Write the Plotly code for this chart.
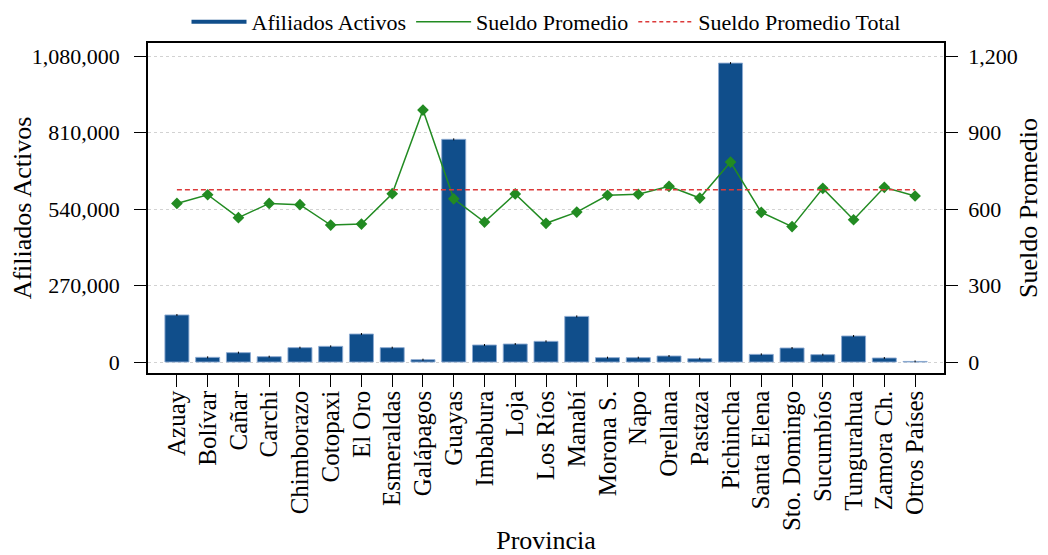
import plotly.graph_objects as go

provincias = ["Azuay", "Bolívar", "Cañar", "Carchi", "Chimborazo", "Cotopaxi", "El Oro",
              "Esmeraldas", "Galápagos", "Guayas", "Imbabura", "Loja", "Los Ríos", "Manabí",
              "Morona S.", "Napo", "Orellana", "Pastaza", "Pichincha", "Santa Elena",
              "Sto. Domingo", "Sucumbíos", "Tungurahua", "Zamora Ch.", "Otros Países"]

afiliados = [166000, 16500, 33000, 18800, 50600, 55300, 98800, 50600, 8200, 786000,
             60000, 63500, 73000, 161000, 15300, 15300, 21200, 11800, 1055000, 27000,
             49400, 25900, 91800, 14100, 2000]

sueldo = [622, 656, 566, 622, 617, 537, 541, 660, 988, 640, 549, 659, 544, 588,
          654, 658, 689, 643, 784, 587, 531, 681, 558, 685, 651]

sueldo_total = 676

left_ticks = [0, 270000, 540000, 810000, 1080000]
right_ticks = [0, 300, 600, 900, 1200]

BLUE = "#104E8B"
GREEN = "#228B22"
RED = "#dc3a3a"
FONT = "Liberation Serif"

fig = go.Figure()

# barras y lineas sin leyenda; la leyenda va con trazas aparte (solo lineas)
fig.add_trace(go.Bar(
    x=provincias, y=afiliados, name="Afiliados Activos",
    marker=dict(color=BLUE, line=dict(color="rgba(140,170,210,0.9)", width=1)),
    width=0.78, showlegend=False,
    error_y=dict(type="constant", value=3500, color="black", thickness=1, width=0),
))
fig.add_trace(go.Scatter(
    x=provincias, y=sueldo, mode="lines+markers", name="Sueldo Promedio",
    line=dict(color=GREEN, width=1.5),
    marker=dict(symbol="diamond", size=9, color=GREEN),
    yaxis="y2", showlegend=False,
))
fig.add_trace(go.Scatter(
    x=[provincias[0], provincias[-1]], y=[sueldo_total, sueldo_total], mode="lines",
    name="Sueldo Promedio Total",
    line=dict(color=RED, width=1.5, dash="5px,3px"),
    yaxis="y2", showlegend=False,
))

for nombre, color, ancho, dash in [("Afiliados Activos", BLUE, 4, "solid"),
                                   ("Sueldo Promedio", GREEN, 1.5, "solid"),
                                   ("Sueldo Promedio Total", RED, 1.5, "4px,3px")]:
    fig.add_trace(go.Scatter(x=[None], y=[None], mode="lines", name=nombre,
                             line=dict(color=color, width=ancho, dash=dash)))

# el navegador deja 8px de margen en el body: figura algo menor
fig.update_layout(
    width=1040, height=547,
    margin=dict(l=140, r=104, t=35, b=182, autoexpand=False),
    paper_bgcolor="white", plot_bgcolor="white",
    font=dict(family=FONT, size=22, color="black"),
    showlegend=True,
    legend=dict(orientation="h", x=0.5, xanchor="center", y=1.0, yanchor="bottom",
                font=dict(size=22), itemwidth=55, bgcolor="rgba(0,0,0,0)"),
    xaxis=dict(
        categoryorder="array", categoryarray=provincias,
        tickmode="linear", tick0=0, dtick=1,
        range=[-0.94, 24.94], tickangle=-90, tickfont=dict(size=25),
        ticklabelstandoff=-6,
        showline=True, linecolor="black", linewidth=1.5, mirror=True,
        ticks="outside", ticklen=12, tickcolor="black",
        showgrid=False, zeroline=False,
        title=dict(text="Provincia", standoff=2),
    ),
    yaxis=dict(
        range=[-38800, 1126000], tickvals=left_ticks,
        tickformat=",d", ticklabelstandoff=10,
        showline=True, linecolor="black", linewidth=1.5,
        ticks="outside", ticklen=12, tickcolor="black",
        showgrid=True, gridcolor="#d2d2d2", griddash="dot", gridwidth=1,
        zeroline=False,
        title=dict(text="Afiliados Activos", standoff=2),
    ),
    yaxis2=dict(
        overlaying="y", side="right",
        range=[-43, 1251], tickvals=right_ticks, tickformat=",d", ticklabelstandoff=6,
        showline=True, linecolor="black", linewidth=1.5,
        ticks="outside", ticklen=12, tickcolor="black",
        showgrid=False, zeroline=False,
        title=dict(text="Sueldo Promedio", standoff=2),
    ),
)

fig.write_html("out.html")
